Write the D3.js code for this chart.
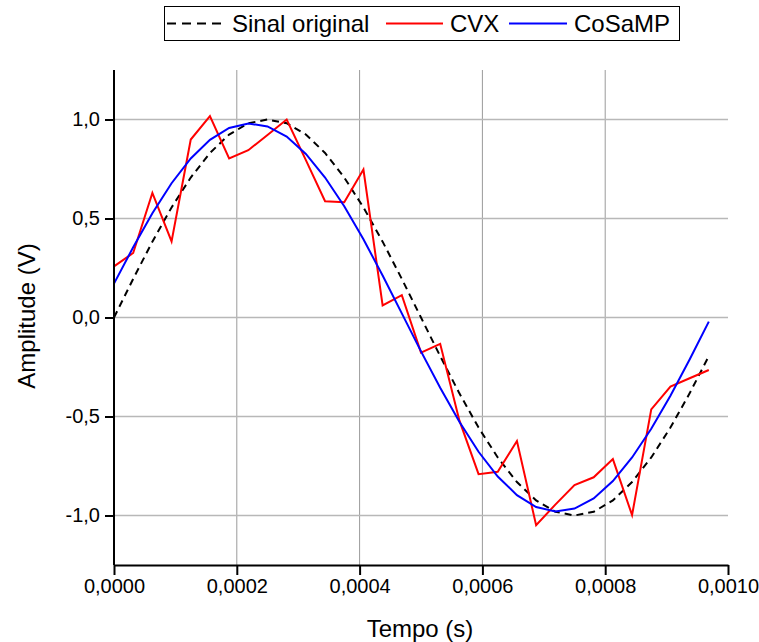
<!DOCTYPE html>
<html>
<head>
<meta charset="utf-8">
<script src="https://cdn.jsdelivr.net/npm/d3@7"></script>
<style>
  html, body { margin: 0; padding: 0; background: #fff; }
  svg { display: block; font-family: "Liberation Sans", Arial, sans-serif; }
</style>
</head>
<body>
<svg id="chart" width="759" height="642"></svg>
<script>
// ---- data ----
const time = [0, 0.00003125, 0.0000625, 0.00009375, 0.000125, 0.00015625, 0.0001875, 0.00021875,
  0.00025, 0.00028125, 0.0003125, 0.00034375, 0.000375, 0.00040625, 0.0004375, 0.00046875,
  0.0005, 0.00053125, 0.0005625, 0.00059375, 0.000625, 0.00065625, 0.0006875, 0.00071875,
  0.00075, 0.00078125, 0.0008125, 0.00084375, 0.000875, 0.00090625, 0.0009375, 0.00096875];
const sinalOriginal = [0, 0.195, 0.383, 0.556, 0.707, 0.831, 0.924, 0.981, 1.0, 0.981, 0.924, 0.831,
  0.707, 0.556, 0.383, 0.195, 0, -0.195, -0.383, -0.556, -0.707, -0.831, -0.924, -0.981, -1.0,
  -0.981, -0.924, -0.831, -0.707, -0.556, -0.383, -0.195];
const cvx = [0.258, 0.326, 0.629, 0.384, 0.899, 1.017, 0.803, 0.845, 0.922, 1.0, 0.795, 0.587,
  0.582, 0.747, 0.061, 0.113, -0.177, -0.133, -0.52, -0.791, -0.779, -0.624, -1.049, -0.945,
  -0.846, -0.807, -0.715, -0.998, -0.464, -0.349, -0.307, -0.265];
const cosamp = [0.171, 0.355, 0.527, 0.678, 0.803, 0.897, 0.957, 0.980, 0.965, 0.914, 0.826, 0.707,
  0.562, 0.395, 0.212, 0.021, -0.171, -0.355, -0.527, -0.678, -0.803, -0.897, -0.957, -0.980,
  -0.965, -0.914, -0.826, -0.707, -0.562, -0.395, -0.212, -0.021];
const xTicks = [0, 0.0002, 0.0004, 0.0006, 0.0008, 0.0010];
const yTicks = [-1.0, -0.5, 0.0, 0.5, 1.0];
const seriesNames = ["Sinal original", "CVX", "CoSaMP"];

// ---- layout ----
const svg = d3.select("#chart");
const L = 114, R = 728, T = 70, B = 565;
const x = d3.scaleLinear().domain([0, 0.001]).range([L, R]);
const y = d3.scaleLinear().domain([-1.25, 1.25]).range([B, T]);
const loc = d3.formatLocale({decimal: ",", thousands: ".", grouping: [3], currency: ["", ""], minus: "-"});
const fx = loc.format(".4f"), fy = loc.format(".1f");

// grid
svg.append("g").selectAll("line").data(xTicks.filter(d => d > 0 && d < 0.001)).join("line")
  .attr("x1", d => x(d)).attr("x2", d => x(d)).attr("y1", T).attr("y2", B)
  .attr("stroke", "#9a9a9a").attr("stroke-width", 1);
svg.append("g").selectAll("line").data(yTicks).join("line")
  .attr("x1", L).attr("x2", R).attr("y1", d => y(d)).attr("y2", d => y(d))
  .attr("stroke", "#b8b8b8").attr("stroke-width", 1.5);

// lines
const mk = vals => d3.line().x((d, i) => x(time[i])).y(d => y(d))(vals);
svg.append("path").attr("d", mk(sinalOriginal)).attr("fill", "none")
  .attr("stroke", "#000").attr("stroke-width", 2).attr("stroke-dasharray", "7,5");
svg.append("path").attr("d", mk(cvx)).attr("fill", "none")
  .attr("stroke", "#ff0000").attr("stroke-width", 2).attr("stroke-linejoin", "miter");
svg.append("path").attr("d", mk(cosamp)).attr("fill", "none")
  .attr("stroke", "#0000ff").attr("stroke-width", 2);

// axes
const ax = svg.append("g").attr("transform", `translate(0,${B})`)
  .call(d3.axisBottom(x).tickValues(xTicks).tickFormat(fx).tickSizeInner(10).tickSizeOuter(0).tickPadding(4));
const ay = svg.append("g").attr("transform", `translate(${L},0)`)
  .call(d3.axisLeft(y).tickValues(yTicks).tickFormat(fy).tickSizeInner(9).tickSizeOuter(0).tickPadding(5));
ay.select(".domain").attr("d", `M0,${T}V${B}`);
[ax, ay].forEach(g => {
  g.select(".domain").attr("stroke", "#000").attr("stroke-width", 2);
  g.selectAll(".tick line").attr("stroke", "#000").attr("stroke-width", 2);
  g.selectAll(".tick text").attr("fill", "#000").style("font-size", "20px")
    .style("font-family", "'Liberation Sans', Arial, sans-serif");
});

// axis titles
svg.append("text").attr("x", 420).attr("y", 637).attr("text-anchor", "middle")
  .style("font-size", "24px").text("Tempo (s)");
svg.append("text").attr("transform", "translate(35,316) rotate(-90)").attr("text-anchor", "middle")
  .style("font-size", "24px").text("Amplitude (V)");

// legend
const lg = svg.append("g");
lg.append("rect").attr("x", 164.5).attr("y", 6.5).attr("width", 515).attr("height", 34)
  .attr("fill", "#fff").attr("stroke", "#000").attr("stroke-width", 1);
const items = [
  {name: seriesNames[0], color: "#000", dash: "9,6", x1: 167, x2: 224, tx: 232},
  {name: seriesNames[1], color: "#ff0000", dash: null, x1: 386, x2: 443, tx: 450},
  {name: seriesNames[2], color: "#0000ff", dash: null, x1: 509, x2: 567, tx: 574}
];
items.forEach(it => {
  lg.append("line").attr("x1", it.x1).attr("x2", it.x2).attr("y1", 23.5).attr("y2", 23.5)
    .attr("stroke", it.color).attr("stroke-width", 2).attr("stroke-dasharray", it.dash);
  lg.append("text").attr("x", it.tx).attr("y", 32).style("font-size", "24px").text(it.name);
});
</script>
</body>
</html>
